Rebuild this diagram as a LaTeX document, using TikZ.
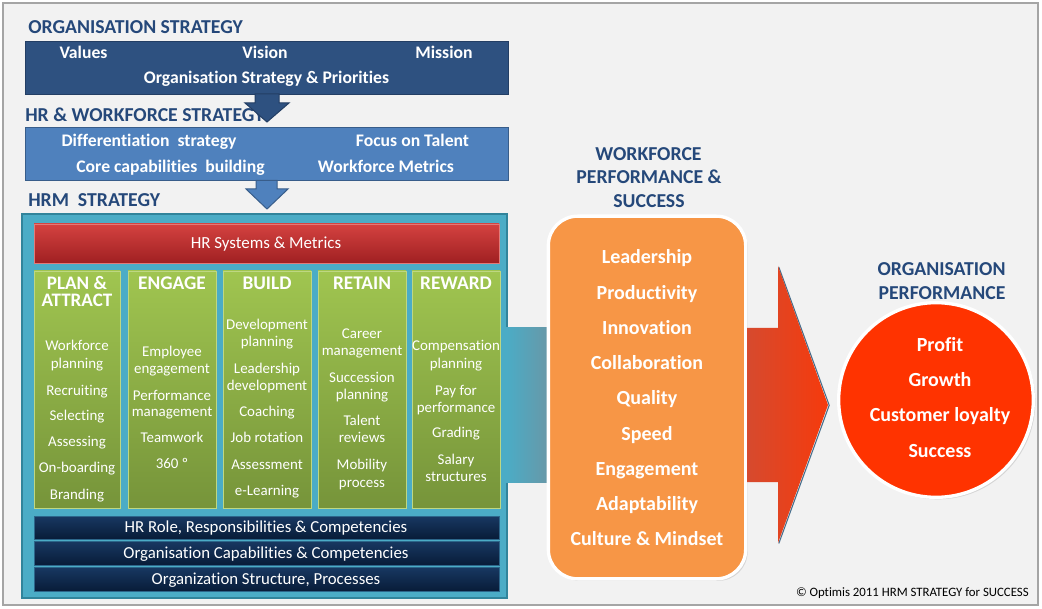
\documentclass[tikz,border=0pt]{standalone}
\usepackage{fontspec}
\setmainfont{Carlito}[Ligatures=NoCommon]
\usetikzlibrary{shadows}
\definecolor{bg}{RGB}{242,242,242}
\definecolor{framec}{RGB}{165,165,165}
\definecolor{ttl}{RGB}{37,72,122}
\definecolor{navyA}{RGB}{46,81,128}
\definecolor{navyAd}{RGB}{35,62,100}
\definecolor{blueB}{RGB}{79,129,189}
\definecolor{blueBd}{RGB}{56,93,138}
\definecolor{tealc}{RGB}{75,172,198}
\definecolor{teald}{RGB}{49,132,155}
\definecolor{redT}{RGB}{212,66,64}
\definecolor{redB}{RGB}{160,32,34}
\definecolor{grT}{RGB}{160,197,80}
\definecolor{grB}{RGB}{118,148,58}
\definecolor{grE}{RGB}{190,215,130}
\definecolor{nvT}{RGB}{24,56,98}
\definecolor{nvB}{RGB}{8,28,56}
\definecolor{orng}{RGB}{247,150,70}
\definecolor{arrL}{RGB}{214,74,46}
\definecolor{arrR}{RGB}{246,58,12}
\definecolor{circc}{RGB}{255,51,0}
\definecolor{conR}{RGB}{106,150,165}
\definecolor{arrEdge}{RGB}{70,110,140}
\begin{document}
\begin{tikzpicture}[x=0.75pt,y=-0.75pt,
  ttlT/.style={text=ttl, font=\fontsize{14.8}{15}\selectfont\bfseries, inner sep=0pt, text height=9.5pt, text depth=0pt},
  wb/.style={text=white, font=\fontsize{13.25}{14}\selectfont\bfseries, inner sep=0pt, text height=8.5pt, text depth=0pt},
  item/.style={text=white, font=\fontsize{11.2}{12}\selectfont, inner sep=0pt, text height=7.2pt, text depth=0pt},
  headT/.style={text=white, font=\fontsize{14.5}{15}\selectfont\bfseries, inner sep=0pt, text height=9.3pt, text depth=0pt},
  barT/.style={text=white, font=\fontsize{12.6}{13}\selectfont, inner sep=0pt, text height=8.1pt, text depth=0pt},
  bigT/.style={text=white, font=\fontsize{15}{16}\selectfont\bfseries, inner sep=0pt, text height=9.6pt, text depth=0pt},
  colbox/.style={top color=grT, bottom color=grB, draw=grE, line width=0.6pt},
  navbar/.style={top color=nvT, bottom color=nvB, draw=nvT!60!tealc, line width=0.5pt}
]
\useasboundingbox (0,0) rectangle (1042,609);
\fill[white] (0,0) rectangle (1042,609);
\draw[fill=bg, draw=framec, line width=0.8pt] (3,3) rectangle (1038,605);

% ---- Organisation strategy
\node[ttlT, anchor=west] (tOrg) at (28,27.5) {ORGANISATION STRATEGY};
\draw[fill=navyA, draw=navyAd, line width=0.75pt] (25,42) rectangle (508,95);
\node[wb] (values) at (83.5,52.5) {Values};
\node[wb] (vision) at (265,52.5) {Vision};
\node[wb] (mission) at (444,52.5) {Mission};
\node[wb] (osp) at (266.5,77.5) {Organisation Strategy \& Priorities};

% ---- HR & workforce strategy
\node[ttlT, anchor=west] (tHR) at (25,115) {HR \& WORKFORCE STRATEGY};
\draw[fill=navyA, draw=navyAd, line width=0.75pt, line join=miter]
  (255,94) -- (279,94) -- (279,103) -- (289,103) -- (267,122) -- (245,103) -- (255,103) -- cycle;
\draw[fill=blueB, draw=blueBd, line width=0.75pt] (25,128) rectangle (508,181);
\node[wb] (diff) at (149,141) {Differentiation\ \ strategy};
\node[wb] (focus) at (412.5,141) {Focus on Talent};
\node[wb] (core) at (170.5,166.5) {Core capabilities\ \ building};
\node[wb] (wmet) at (386,166.5) {Workforce Metrics};

% ---- HRM strategy
\node[ttlT, anchor=west] (tHRM) at (28,200.5) {HRM\ \ STRATEGY};
\draw[fill=blueB, draw=blueBd, line width=0.75pt, line join=miter]
  (256,180.5) -- (277,180.5) -- (277,189) -- (288,189) -- (267,209) -- (246,189) -- (256,189) -- cycle;

% teal container
\draw[fill=tealc, draw=teald, line width=1.5pt] (22,214) rectangle (507,598);
% red bar
\draw[top color=redT, bottom color=redB, draw=redT!70!white, line width=0.5pt] (34,224) rectangle (499,263);
\node[text=white, font=\fontsize{12.7}{13}\selectfont, inner sep=0pt, text height=8.2pt, text depth=0pt] (hrsys) at (266,243.3) {HR Systems \& Metrics};

% columns
\draw[colbox] (34,271) rectangle (120,508);
\draw[colbox] (128,271) rectangle (216,508);
\draw[colbox] (223,271) rectangle (311,508);
\draw[colbox] (318,271) rectangle (406,508);
\draw[colbox] (412,271) rectangle (500,508);

\node[text=white, font=\fontsize{14.3}{13}\selectfont\bfseries, inner sep=0pt, align=center] (h1) at (77,291.5) {PLAN \&\\ATTRACT};
\node[headT] (h2) at (172,283) {ENGAGE};
\node[headT] (h3) at (267,283) {BUILD};
\node[headT] (h4) at (362,283) {RETAIN};
\node[headT] (h5) at (456,283) {REWARD};

\foreach \x/\y/\t [count=\i] in {
  77/346/{Workforce}, 77/364/{planning}, 77/391/{Recruiting}, 77/416/{Selecting}, 77/442/{Assessing}, 77/468/{On-boarding}, 77/495/{Branding},
  172/352/{Employee}, 172/369/{engagement}, 172/396/{Performance}, 172/412/{management}, 172/438/{Teamwork}, 172/464/{360 º},
  267/325/{Development}, 267/342/{planning}, 267/369/{Leadership}, 267/386/{development}, 267/412/{Coaching}, 267/438/{Job rotation}, 267/465/{Assessment}, 267/491/{e-Learning},
  362/334/{Career}, 362/351/{management}, 362/378/{Succession}, 362/395/{planning}, 362/421/{Talent}, 362/438/{reviews}, 362/465/{Mobility}, 362/483/{process},
  456/346/{Compensation}, 456/364/{planning}, 456/391/{Pay for}, 456/408/{performance}, 456/433/{Grading}, 456/460/{Salary}, 456/477/{structures}}
  \node[item] (it\i) at (\x,\y) {\t};

% bottom bars
\draw[navbar] (34,516) rectangle (499,539);
\draw[navbar] (34,541) rectangle (499,565);
\draw[navbar] (34,567) rectangle (499,591);
\node[barT] (b1) at (266,527.5) {HR Role, Responsibilities \& Competencies};
\node[barT] (b2) at (266,553.5) {Organisation Capabilities \& Competencies};
\node[barT] (b3) at (266,579) {Organization Structure, Processes};

% teal connector
\shade[left color=tealc, right color=conR] (506,328) rectangle (552,482);

% workforce performance
\node[ttlT] (w1) at (648.5,153.7) {WORKFORCE};
\node[ttlT] (w2) at (649,177.3) {PERFORMANCE \&};
\node[ttlT] (w3) at (649,201) {SUCCESS};
\node[fill=orng, draw=white, line width=2.5pt, rounded corners=22pt,
      minimum width=148pt, minimum height=272pt,
      drop shadow={opacity=0.25, shadow xshift=1.5pt, shadow yshift=-1.5pt}] (perf) at (647,397.5) {};
\foreach \t [count=\i] in {Leadership, Productivity, Innovation, Collaboration, Quality, Speed, Engagement, Adaptability, {Culture \& Mindset}}
  \node[bigT] (pf\i) at (647,{257.5+(\i-1)*35.25}) {\t};

% red arrow
\draw[arrEdge, line width=0.8pt] (778.8,267) -- (829.2,405.3) -- (778.8,543.5);
\shade[left color=arrL, right color=arrR]
  (747,328) -- (778,328) -- (778,266) -- (828,405) -- (778,543) -- (778,482) -- (747,482) -- cycle;

% organisation performance
\node[ttlT] (o1) at (941.5,269.5) {ORGANISATION};
\node[ttlT] (o2) at (942,293.5) {PERFORMANCE};
\node[circle, fill=circc, draw=white, line width=2.5pt, minimum size=146pt,
      drop shadow={opacity=0.25, shadow xshift=1.5pt, shadow yshift=-1.5pt}] (orgp) at (936,400) {};
\node[bigT] (op1) at (940,345.5) {Profit};
\node[bigT] (op2) at (940,380) {Growth};
\node[bigT] (op3) at (940,415) {Customer loyalty};
\node[bigT] (op4) at (940,451) {Success};

\node[anchor=east, font=\fontsize{9.6}{10}\selectfont, inner sep=0pt, text height=6.2pt, text depth=0pt] (copy) at (1029,592) {© Optimis 2011 HRM STRATEGY for SUCCESS};
\end{tikzpicture}
\end{document}
